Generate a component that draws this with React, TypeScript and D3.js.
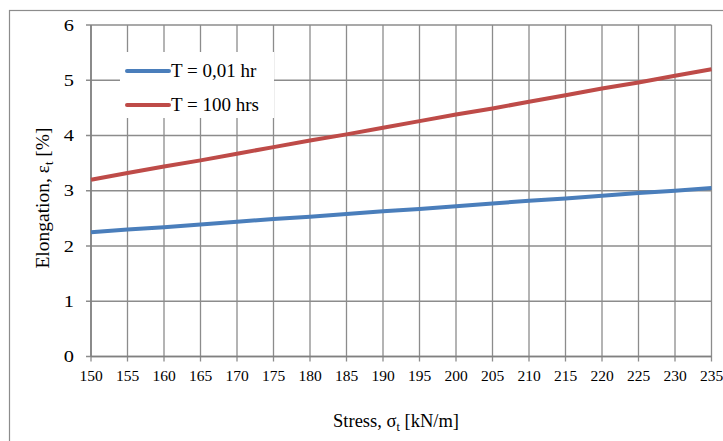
import React from "react";
import * as d3 from "d3";

// Stress levels (kN/m) at which elongation was recorded
const stress = [150, 155, 160, 165, 170, 175, 180, 185, 190, 195, 200, 205, 210, 215, 220, 225, 230, 235];
// Elongation (%) after a short load duration
const shortTerm = [2.25, 2.3, 2.34, 2.39, 2.44, 2.49, 2.53, 2.58, 2.63, 2.67, 2.72, 2.77, 2.82, 2.86, 2.91, 2.96, 3.0, 3.05];
// Elongation (%) after a long load duration
const longTerm = [3.2, 3.32, 3.44, 3.55, 3.67, 3.79, 3.91, 4.02, 4.14, 4.26, 4.38, 4.49, 4.61, 4.73, 4.85, 4.96, 5.08, 5.2];
const yTicks = [0, 1, 2, 3, 4, 5, 6];
const seriesNames = ["T = 0,01 hr", "T = 100 hrs"];
const seriesColors = ["#4A7EBB", "#BE4B48"];

const W = 723;
const H = 441;
const plot = { left: 91, right: 711.5, top: 25, bottom: 356.5 };
const txt = { fontFamily: '"Liberation Serif"' };
const gridColor = "#8C8C8C";

export default function App() {
  const x = d3.scaleLinear().domain([150, 235]).range([plot.left, plot.right]);
  const y = d3.scaleLinear().domain([0, 6]).range([plot.bottom, plot.top]);
  const line = d3
    .line<number>()
    .x((_, i) => x(stress[i]))
    .y((d) => y(d));
  const series = [shortTerm, longTerm];

  return (
    <svg width={W} height={H} style={{ position: "absolute", left: 0, top: 0, background: "#fff" }}>
      <rect x={0} y={0} width={W} height={H} fill="#fff" />
      {/* chart frame */}
      <rect x={9.5} y={10.5} width={W} height={H} fill="none" stroke="#8C8C8C" strokeWidth={1.2} />

      {/* vertical gridlines + bottom ticks */}
      {stress.map((s) => (
        <line key={"v" + s} x1={x(s)} x2={x(s)} y1={plot.top} y2={plot.bottom + 5} stroke={gridColor} strokeWidth={1.3} />
      ))}
      {stress.map((s) => (
        <text key={"vt" + s} x={x(s)} y={381} textAnchor="middle" fontSize={15.5} fill="#000" style={txt}>
          {String(s)}
        </text>
      ))}
      {/* horizontal gridlines + left ticks */}
      {yTicks.map((t) => (
        <line key={"h" + t} x1={plot.left - 5} x2={plot.right} y1={y(t)} y2={y(t)} stroke={gridColor} strokeWidth={1.3} />
      ))}
      {yTicks.map((t) => (
        <text
          key={"ht" + t}
          transform={`translate(74, ${y(t) + 5.5}) scale(1.2, 1)`}
          textAnchor="end"
          fontSize={17}
          fill="#000"
          style={txt}
        >
          {String(t)}
        </text>
      ))}
      {/* axis lines */}
      <line x1={plot.left} x2={plot.left} y1={plot.top} y2={plot.bottom} stroke="#808080" strokeWidth={1.6} />
      <line x1={plot.left} x2={plot.right} y1={plot.bottom} y2={plot.bottom} stroke="#808080" strokeWidth={1.6} />

      {/* data lines */}
      {series.map((d, i) => (
        <path key={"s" + i} d={line(d) || ""} fill="none" stroke={seriesColors[i]} strokeWidth={4} />
      ))}

      {/* legend */}
      <rect x={120} y={52} width={154} height={66} fill="#fff" />
      {seriesNames.map((n, i) => (
        <line
          key={"ll" + i}
          x1={127}
          x2={169}
          y1={71 + i * 34}
          y2={71 + i * 34}
          stroke={seriesColors[i]}
          strokeWidth={4}
          strokeLinecap="round"
        />
      ))}
      {seriesNames.map((n, i) => (
        <text key={"lt" + i} x={171} y={77 + i * 34} fontSize={19} fill="#000" style={txt}>
          {n}
        </text>
      ))}

      {/* axis titles */}
      <text x={396} y={427} textAnchor="middle" fontSize={18.5} fill="#000" style={txt}>
        Stress, σ<tspan fontSize={12} dy={4}>t</tspan>
        <tspan dy={-4}> [kN/m]</tspan>
      </text>
      <text
        transform="translate(49, 198) rotate(-90)"
        textAnchor="middle"
        fontSize={19.5}
        fill="#000"
        style={txt}
      >
        Elongation, ε<tspan fontSize={12.5} dy={4}>t</tspan>
        <tspan dy={-4}> [%]</tspan>
      </text>
    </svg>
  );
}
